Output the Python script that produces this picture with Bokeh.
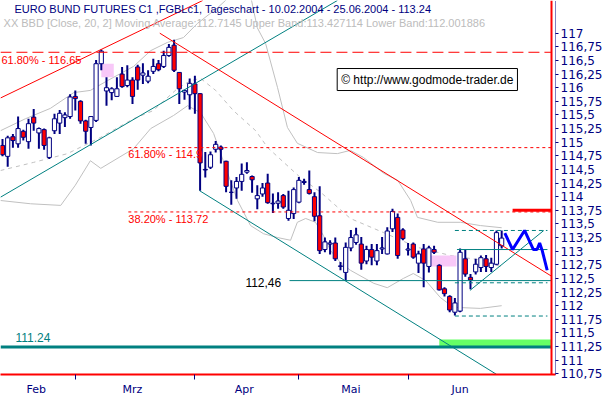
from bokeh.plotting import figure
from bokeh.models import Range1d, FixedTicker, CustomJSTickFormatter, Label, Span
from bokeh.embed import file_html
from bokeh.resources import INLINE

# ---------------- data ----------------
# daily candles 10.02.2004 - 25.06.2004, x = session index
open_ = [114.94, 114.74, 115.10, 114.97, 115.20, 115.01, 115.46, 115.17, 115.23, 114.72,
         115.21, 115.35, 115.45, 115.47, 115.84, 115.75, 115.39, 115.27, 115.40, 116.44,
         115.94, 115.91, 115.84, 116.25, 116.04, 116.14, 116.38, 116.23, 116.12, 116.30,
         116.44, 116.39, 116.59, 116.78, 116.28, 115.92, 115.87, 116.07, 115.89, 114.50,
         114.54, 114.87, 114.91, 114.65, 114.08, 114.16, 114.28, 114.45, 114.37, 113.96,
         114.05, 114.25, 113.87, 113.88, 114.02, 113.60, 113.69, 113.90, 114.26, 114.13,
         114.00, 113.65, 113.03, 113.13, 113.15, 112.72, 112.61, 113.06, 113.16, 113.13,
         112.82, 113.03, 112.82, 113.04, 112.95, 113.41, 113.62, 113.39, 113.02, 113.13,
         112.78, 113.04, 112.72, 113.03, 112.74, 112.31, 112.17, 111.88, 111.90, 112.86,
         112.52, 112.62, 112.70, 112.86, 112.70, 112.76, 113.10]
high = [115.06, 115.12, 115.15, 115.47, 115.23, 115.43, 115.61, 115.27, 115.25, 115.10,
        115.52, 115.59, 115.55, 115.88, 115.95, 115.77, 115.41, 115.48, 116.51, 116.70,
        116.19, 116.01, 116.19, 116.38, 116.41, 116.19, 116.42, 116.45, 116.32, 116.53,
        116.51, 116.68, 116.80, 116.88, 116.29, 115.96, 116.17, 116.22, 115.90, 114.82,
        114.83, 115.02, 114.94, 114.66, 114.30, 114.36, 114.61, 114.63, 114.39, 114.21,
        114.25, 114.42, 114.06, 114.08, 114.05, 114.11, 114.17, 114.36, 114.33, 114.48,
        114.08, 114.19, 113.25, 113.20, 113.25, 112.80, 113.16, 113.39, 113.43, 113.26,
        113.10, 113.13, 113.13, 113.26, 113.44, 113.78, 113.69, 113.42, 113.15, 113.16,
        113.01, 113.13, 113.10, 113.10, 112.76, 112.34, 112.19, 112.14, 113.05, 113.03,
        112.58, 112.86, 112.92, 112.93, 112.88, 113.38, 113.38]
low = [114.74, 114.55, 114.90, 114.90, 115.03, 114.88, 115.21, 114.88, 114.86, 114.69,
       115.15, 115.15, 115.28, 115.43, 115.58, 115.34, 114.97, 114.94, 115.37, 116.32,
       115.67, 115.77, 115.83, 116.00, 116.01, 115.70, 115.96, 116.07, 116.08, 116.25,
       116.30, 116.36, 116.57, 116.29, 115.70, 115.78, 115.60, 115.52, 114.11, 114.35,
       114.51, 114.81, 114.61, 114.08, 113.85, 113.96, 114.11, 114.42, 114.07, 113.77,
       114.00, 113.87, 113.70, 113.78, 113.78, 113.56, 113.59, 113.88, 114.22, 114.04,
       113.55, 112.95, 112.98, 112.94, 112.82, 112.65, 112.46, 113.00, 113.12, 112.66,
       112.76, 112.74, 112.74, 112.95, 112.94, 113.35, 112.86, 113.20, 112.92, 112.86,
       112.60, 112.34, 112.61, 112.95, 112.28, 112.17, 111.88, 111.82, 111.88, 112.53,
       112.30, 112.57, 112.62, 112.62, 112.62, 112.74, 113.05]
close = [114.77, 115.08, 115.03, 115.25, 115.09, 115.34, 115.35, 115.25, 114.94, 115.08,
         115.43, 115.53, 115.50, 115.83, 115.80, 115.39, 115.20, 115.47, 116.44, 116.67,
         116.00, 115.98, 115.98, 116.02, 116.14, 115.84, 116.14, 116.27, 116.21, 116.39,
         116.33, 116.59, 116.74, 116.32, 115.98, 115.95, 116.08, 115.89, 114.62, 114.49,
         114.77, 114.96, 114.87, 114.19, 114.08, 114.28, 114.41, 114.48, 114.31, 114.02,
         114.16, 113.89, 113.88, 113.92, 113.81, 113.75, 114.13, 114.30, 114.28, 114.06,
         113.64, 113.01, 113.17, 113.15, 112.86, 112.73, 113.07, 113.25, 113.30, 112.78,
         113.03, 112.89, 113.01, 113.06, 113.37, 113.73, 112.92, 113.23, 113.04, 112.89,
         112.95, 112.78, 113.06, 112.98, 112.29, 112.22, 111.92, 112.05, 112.98, 112.58,
         112.47, 112.76, 112.88, 112.72, 112.78, 113.34, 113.24]

month_names = ["Feb", "Mrz", "Apr", "Mai", "Jun"]
month_label_pos = [6.5, 25, 46.5, 67, 88]
month_first_session = [14, 37, 57, 78]

y_ticks = [117.0, 116.75, 116.5, 116.25, 116.0, 115.75, 115.5, 115.25, 115.0, 114.75,
           114.5, 114.25, 114.0, 113.75, 113.5, 113.25, 113.0, 112.75, 112.5, 112.25,
           112.0, 111.75, 111.5, 111.25, 111.0, 110.75]

# Bollinger bands (20, 2)
bb_up_x = [-0.4, 4.4, 9.2, 13.7, 16.9, 20.2, 25.2, 28.5, 31.7, 34.8, 37.5, 41.4, 43.9, 47.7,
           49.0, 50.6, 52.9, 54.8, 56.7, 60.6, 64.4, 66.9, 69.4, 73.3, 76.0, 78.5, 79.8,
           83.7, 88.1, 91.9, 96.0]
bb_up_y = [115.21, 115.43, 115.62, 115.91, 115.95, 116.13, 116.39, 116.68, 116.83, 116.92,
           117.18, 117.47, 117.69, 117.69, 117.10, 116.81, 116.00, 115.27, 114.98, 114.81,
           114.79, 114.85, 114.72, 114.43, 114.30, 113.93, 113.62, 113.53, 113.53, 113.47,
           113.43]
bb_mid_x = [-0.4, 6.0, 12.5, 18.9, 25.2, 29.0, 33.7, 36.2, 38.1, 41.0, 44.4, 48.7, 51.0,
            57.3, 61.2, 66.9, 73.3, 79.8, 86.2, 92.5, 96.0]
bb_mid_y = [114.48, 114.63, 114.79, 115.09, 115.43, 115.58, 115.99, 116.13, 116.17, 115.95,
            115.58, 115.21, 114.90, 114.35, 114.08, 113.60, 113.34, 113.07, 112.92, 112.83,
            112.71]
bb_low_x = [-0.4, 5.4, 11.2, 14.0, 16.9, 18.9, 25.2, 28.5, 32.9, 35.6, 38.1, 40.6, 43.3,
            45.2, 47.7, 50.2, 52.9, 55.4, 56.7, 58.3, 60.2, 61.7, 63.1, 65.0, 66.9, 71.4,
            74.0, 77.1, 79.0, 81.4, 84.2, 86.7, 91.9, 96.0]
bb_low_y = [113.93, 113.87, 113.84, 114.21, 114.66, 114.52, 114.88, 115.25, 115.49, 115.67,
            115.54, 115.16, 114.43, 113.93, 113.47, 113.32, 113.25, 113.20, 113.53, 113.60,
            113.53, 113.29, 113.01, 112.79, 112.65, 112.41, 112.33, 112.50, 112.59, 112.46,
            112.15, 111.97, 111.95, 112.00]

# trend lines (two end points each)
red_up_x, red_up_y = [-0.4, 38.5], [115.81, 117.60]
teal_up_x, teal_up_y = [-0.4, 64.4], [113.99, 117.60]
red_down_x, red_down_y = [30.25, 105.6], [117.00, 112.54]
teal_down_x, teal_down_y = [37.9, 95.0], [114.11, 110.74]

# Fibonacci retracements
fib_levels = [116.65, 114.9, 113.72]
fib_start = [-0.4, 24.2, 24.2]
fib_texts = ["61.80% - 116.65", "61.80% - 114.9", "38.20% - 113.72"]

support_1 = 112.46
support_1_start = 55.2
support_2 = 111.24
target_level = 113.75
target_start = 98.1
green_zone = [111.24, 111.38]
green_start = 84.0

# consolidation box / triangle at the end
box_solid = [113.03]
box_dashed = [113.38, 112.42, 111.81]
box_x0, box_x1 = 87.0, 104.8
tri_x, tri_y = [89.9, 104.1], [112.28, 113.38]

# projected zig-zag
proj_x = [96.6, 98.1, 100.4, 102.1, 102.8, 103.3, 103.8, 104.75]
proj_y = [113.33, 113.03, 113.38, 113.03, 113.03, 113.15, 113.01, 112.65]

# gaps
gap_left = [19.0, 82.3]
gap_right = [21.4, 87.3]
gap_top = [116.44, 112.92]
gap_bottom = [116.19, 112.72]

last_price = 113.24

# ---------------- styling ----------------
NAVY = "#000080"
RED = "#ff0000"
TEAL = "#008080"
GRAY = "#c0c0c0"
FONT = "Liberation Sans"
AXFONT = "DejaVu Sans"
X_START, X_END = -0.385, 106.35
Y_START, Y_END = 110.737, 117.6
RIGHT_EDGE = 105.58

p = figure(frame_width=555, frame_height=374,
           min_border_left=0, min_border_top=0, min_border_right=55, min_border_bottom=23,
           x_range=Range1d(X_START, X_END), y_range=Range1d(Y_START, Y_END),
           y_axis_location="right", output_backend="svg", toolbar_location=None,
           title=None)
p.xgrid.visible = False
p.ygrid.visible = False
p.outline_line_color = None
p.background_fill_color = "white"
p.border_fill_color = "white"

# x axis
p.xaxis.ticker = FixedTicker(ticks=month_label_pos, minor_ticks=month_first_session)
p.xaxis.formatter = CustomJSTickFormatter(
    args=dict(pos=month_label_pos, names=month_names),
    code="const k = pos.indexOf(tick); return k >= 0 ? names[k] : '';")
p.xaxis.major_tick_out = 0
p.xaxis.major_tick_in = 0
p.xaxis.minor_tick_out = 5
p.xaxis.minor_tick_in = 0
p.xaxis.minor_tick_line_color = NAVY
p.xaxis.axis_line_color = RED
p.xaxis.axis_line_width = 2
p.xaxis.major_label_standoff = 3
p.xaxis.major_label_text_font = AXFONT
p.xaxis.major_label_text_font_size = "11px"
p.xaxis.major_label_text_color = NAVY

# y axis
p.yaxis.ticker = FixedTicker(ticks=y_ticks)
p.yaxis.formatter = CustomJSTickFormatter(
    code="let s = tick.toFixed(2); s = s.replace(/0+$/, '').replace(/\\.$/, ''); return s.replace('.', ',');")
p.yaxis.major_tick_out = 3
p.yaxis.major_tick_in = 0
p.yaxis.major_tick_line_color = NAVY
p.yaxis.minor_tick_line_color = None
p.yaxis.axis_line_color = NAVY
p.yaxis.axis_line_dash = "1 1"
p.yaxis.major_label_standoff = 2
p.yaxis.major_label_text_font = AXFONT
p.yaxis.major_label_text_font_size = "12px"
p.yaxis.major_label_text_color = NAVY

# Bollinger bands
p.line(bb_up_x, bb_up_y, line_color=GRAY, line_width=1)
p.line(bb_low_x, bb_low_y, line_color=GRAY, line_width=1)
p.line(bb_mid_x, bb_mid_y, line_color=GRAY, line_width=1, line_dash="4 4")

# gaps
p.quad(left=gap_left, right=gap_right, top=gap_top, bottom=gap_bottom,
       fill_color="#f8c8f8", line_color=None)

# green zone
p.quad(left=[green_start], right=[RIGHT_EDGE], top=[green_zone[1]], bottom=[green_zone[0]],
       fill_color="#66ff66", line_color=None)

# candles
idx = list(range(len(close)))
body_top = [max(o, c) for o, c in zip(open_, close)]
body_bot = [min(o, c) for o, c in zip(open_, close)]
fills = [RED if c < o else "white" for o, c in zip(open_, close)]
p.segment(x0=idx, y0=low, x1=idx, y1=high, line_color=NAVY, line_width=2)
p.vbar(x=idx, width=0.8, top=body_top, bottom=body_bot, fill_color=fills,
       line_color=NAVY, line_width=1)

# trend lines
p.line(red_up_x, red_up_y, line_color=RED, line_width=1)
p.line(teal_up_x, teal_up_y, line_color=TEAL, line_width=1)
p.line(red_down_x, red_down_y, line_color=RED, line_width=1)
p.line(teal_down_x, teal_down_y, line_color=TEAL, line_width=1)

# fibonacci lines
p.segment(x0=[fib_start[0]], x1=[RIGHT_EDGE], y0=[fib_levels[0]], y1=[fib_levels[0]],
          line_color=RED, line_width=1, line_dash="11 5")
p.segment(x0=fib_start[1:], x1=[RIGHT_EDGE] * 2, y0=fib_levels[1:], y1=fib_levels[1:],
          line_color=RED, line_width=1, line_dash="3 3")

# supports / target
p.segment(x0=[support_1_start], x1=[RIGHT_EDGE], y0=[support_1], y1=[support_1],
          line_color=TEAL, line_width=1)
p.segment(x0=[X_START], x1=[RIGHT_EDGE], y0=[support_2], y1=[support_2],
          line_color=TEAL, line_width=3)
p.segment(x0=[target_start], x1=[RIGHT_EDGE], y0=[target_level], y1=[target_level],
          line_color=RED, line_width=3)

# consolidation box
p.segment(x0=[box_x0 + 0.4], x1=[box_x1], y0=box_solid, y1=box_solid,
          line_color=TEAL, line_width=1)
p.segment(x0=[box_x0] * 3, x1=[box_x1] * 3, y0=box_dashed, y1=box_dashed,
          line_color=TEAL, line_width=1, line_dash="4 3")
p.line(tri_x, tri_y, line_color=TEAL, line_width=1)

# projection
p.line(proj_x, proj_y, line_color="#0000ff", line_width=3)

# right border
p.add_layout(Span(location=RIGHT_EDGE, dimension="height", line_color=RED, line_width=2))

# ---------------- texts ----------------
def lab(x, y, text, color, size="11px", align="left", font=FONT, **kw):
    p.add_layout(Label(x=x, y=y, text=text, text_color=color, text_font=font,
                       text_font_size=size, text_align=align, text_baseline="middle", **kw))

lab(2.3, 117.45, "EURO BUND FUTURES C1 ,FGBLc1, Tageschart - 10.02.2004 - 25.06.2004 - 113.24", NAVY)
lab(0.2, 117.18, "XX BBD [Close, 20, 2] Moving Average:112.7145 Upper Band:113.427114 Lower Band:112.001886", "#bcbcbc")
lab(-0.2, 116.50, fib_texts[0], RED)
lab(24.2, 114.79, fib_texts[1], RED)
lab(24.2, 113.59, fib_texts[2], RED)
lab(53.6, 112.43, "112,46", "black", size="12px", align="right")
lab(2.5, 111.41, "111.24", TEAL, size="12px")
lab(81.7, 116.15, "\u00a9 http://www.godmode-trader.de", "black", size="12px", align="center",
    background_fill_color="white", border_line_color="black", border_line_width=1, padding=4)
lab(116.0, 117.45, "EUR", NAVY, size="12px", align="right", font=AXFONT)
lab(106.75, last_price, "113.24", "black", size="12px", font=AXFONT,
    background_fill_color="#ffffe1", border_line_color="#909090", padding=2, level="overlay")

open("out.html", "w").write(file_html(p, INLINE))
